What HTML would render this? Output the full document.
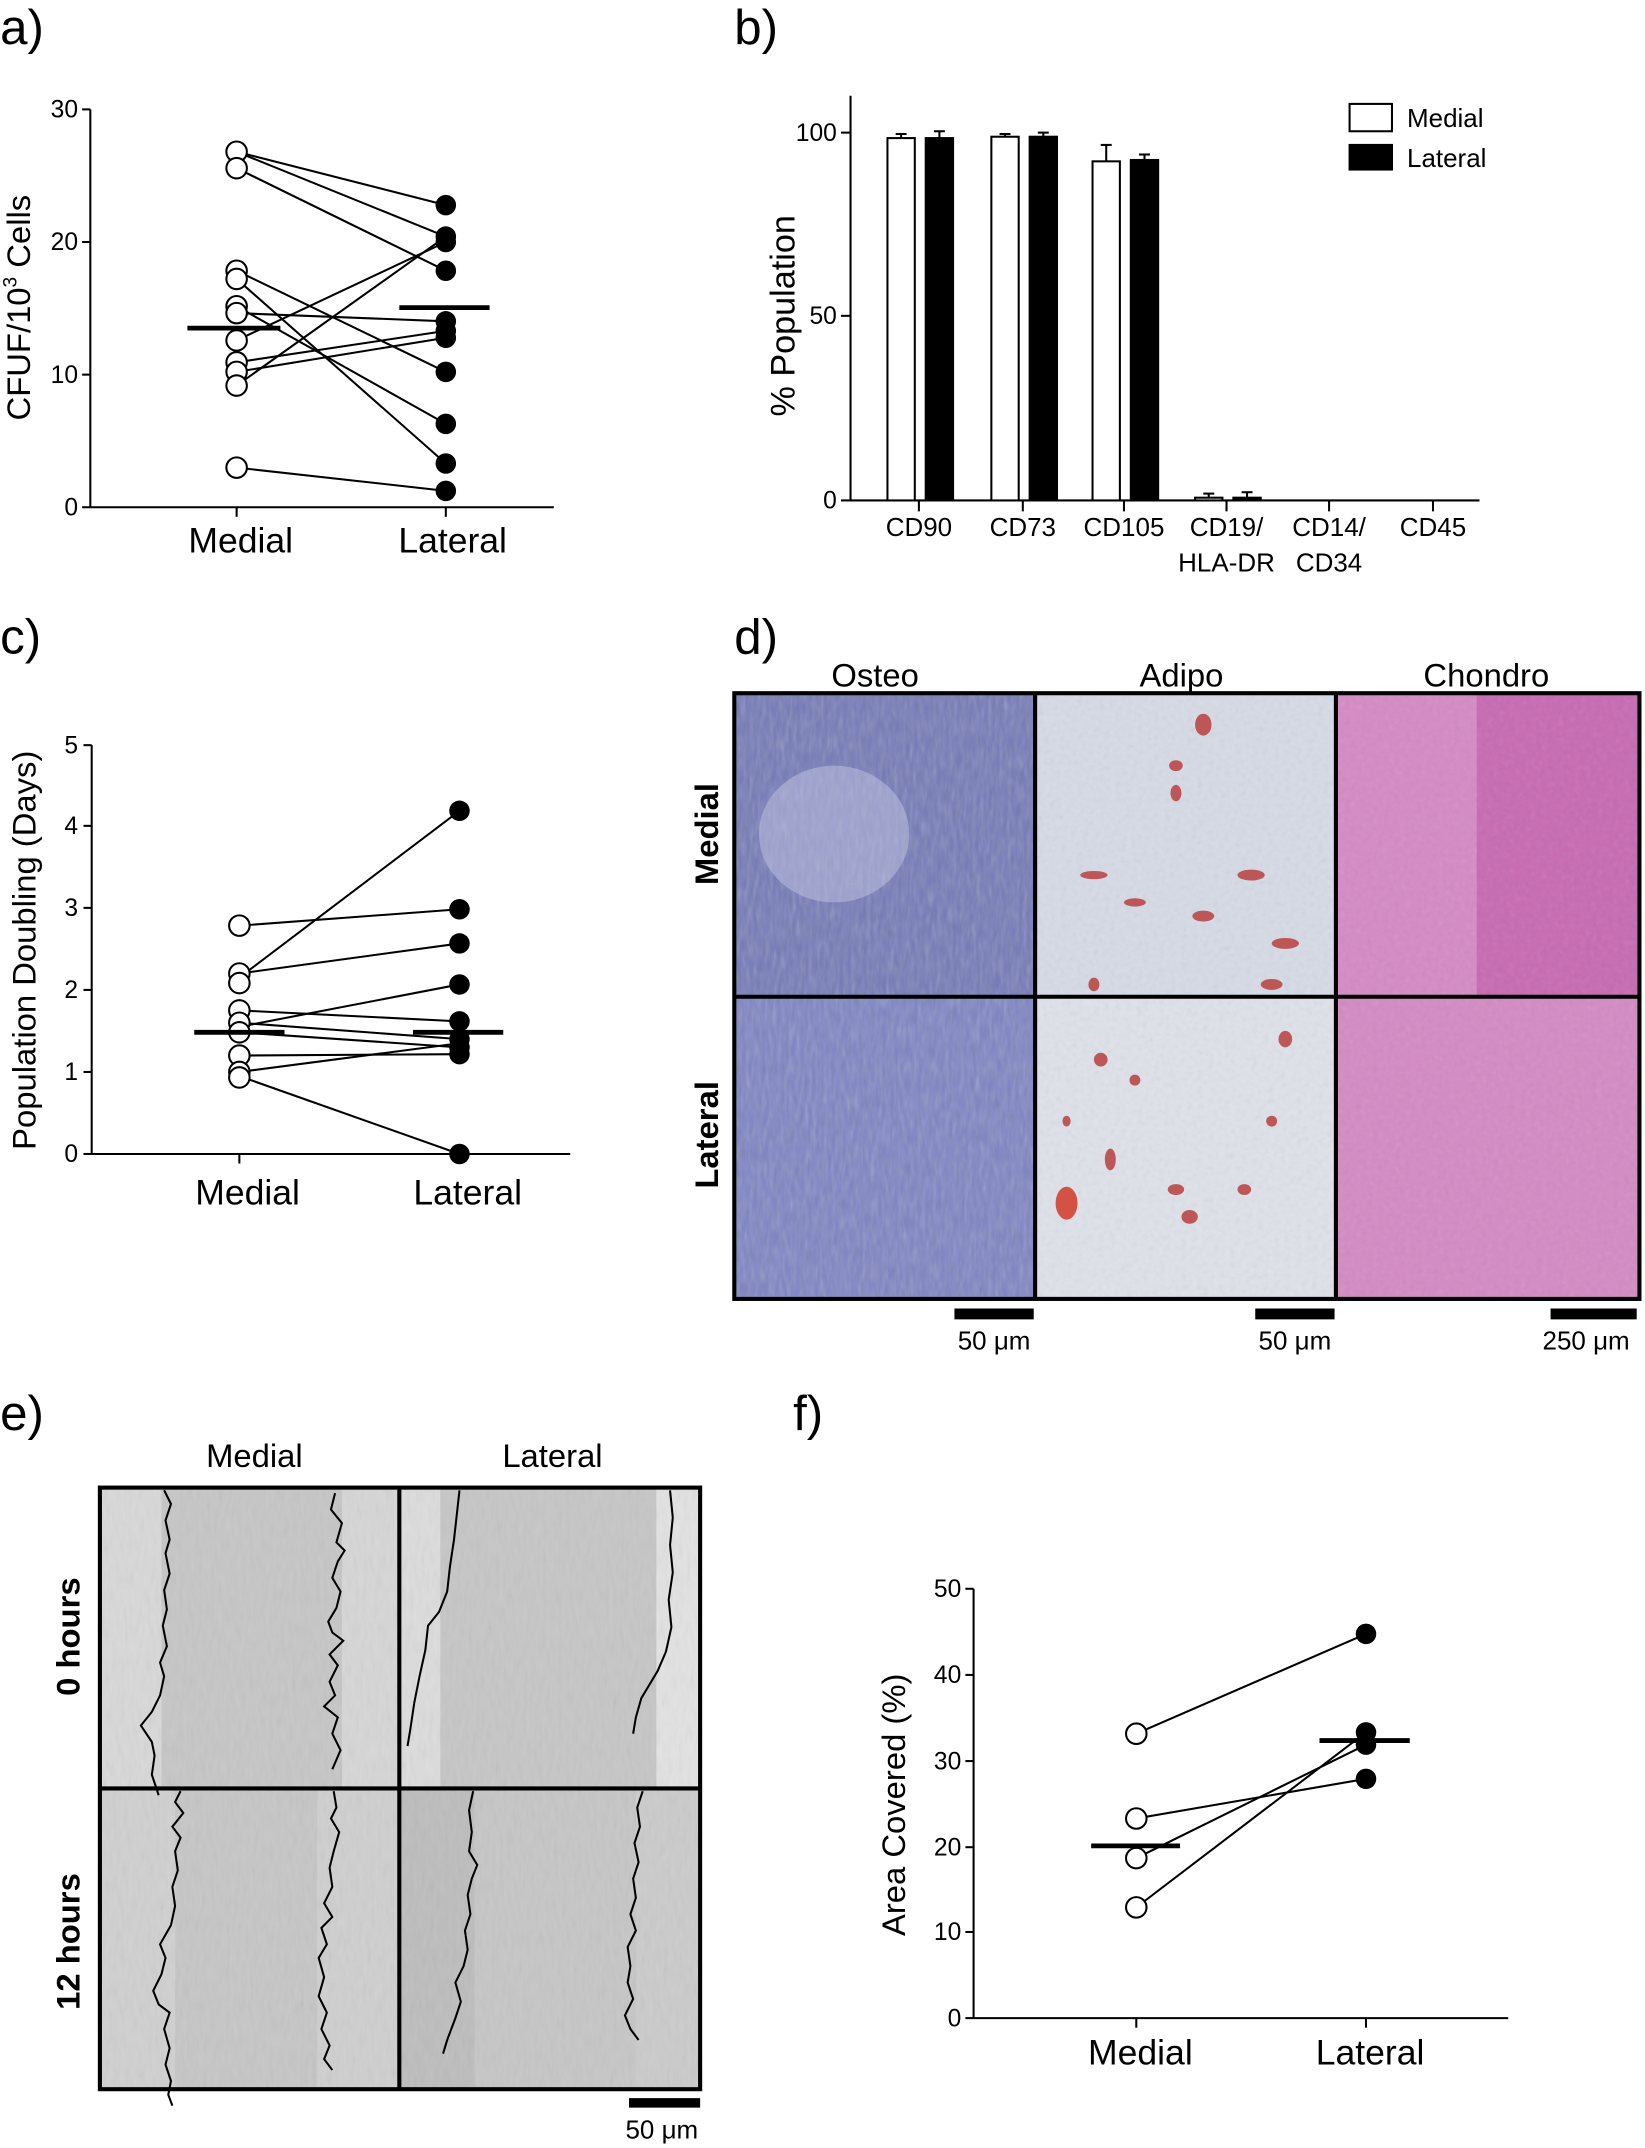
<!DOCTYPE html>
<html><head><meta charset="utf-8"><style>
html,body{margin:0;padding:0;background:#fff;overflow:hidden}
svg{display:block}
text{font-family:"Liberation Sans",sans-serif;fill:#000}
</style></head><body>
<svg width="1645" height="2148" viewBox="0 0 1203 1571" xmlns="http://www.w3.org/2000/svg">
<defs>
<filter id="tx" x="0" y="0" width="1" height="1"><feTurbulence type="fractalNoise" baseFrequency="0.35 0.08" numOctaves="2" seed="3"/><feColorMatrix type="saturate" values="0"/><feComponentTransfer><feFuncA type="linear" slope="0.35"/></feComponentTransfer></filter>
<filter id="tx2" x="0" y="0" width="1" height="1"><feTurbulence type="fractalNoise" baseFrequency="0.25" numOctaves="2" seed="7"/><feColorMatrix type="saturate" values="0"/><feComponentTransfer><feFuncA type="linear" slope="0.3"/></feComponentTransfer></filter>
</defs>

<g font-size="36">
<text x="0" y="32">a)</text><text x="537" y="32">b)</text>
<text x="0" y="478">c)</text><text x="537" y="478">d)</text>
<text x="0" y="1046">e)</text><text x="580" y="1046">f)</text>
</g>

<!-- PANEL A -->
<g stroke="#000" stroke-width="1.5">
<line x1="66" y1="80" x2="66" y2="371"/><line x1="66" y1="371" x2="405" y2="371"/>
<line x1="60" y1="80" x2="66" y2="80"/><line x1="60" y1="177" x2="66" y2="177"/><line x1="60" y1="274" x2="66" y2="274"/><line x1="60" y1="371" x2="66" y2="371"/>
<line x1="173" y1="371" x2="173" y2="378"/><line x1="326" y1="371" x2="326" y2="378"/>
</g>
<g font-size="18" text-anchor="end"><text x="57" y="86">30</text><text x="57" y="183">20</text><text x="57" y="280">10</text><text x="57" y="377">0</text></g>
<g font-size="26" text-anchor="middle"><text x="176" y="404">Medial</text><text x="331" y="404">Lateral</text></g>
<text font-size="24" transform="translate(22,225) rotate(-90)" text-anchor="middle">CFUF/10<tspan font-size="14" dy="-10">3</tspan><tspan dy="10"> Cells</tspan></text>
<g stroke="#000" stroke-width="1.5">
<line x1="173" y1="111" x2="326" y2="150"/><line x1="173" y1="111" x2="326" y2="173"/><line x1="173" y1="123" x2="326" y2="198"/>
<line x1="173" y1="198" x2="326" y2="272"/><line x1="173" y1="204" x2="326" y2="339"/><line x1="173" y1="224" x2="326" y2="310"/>
<line x1="173" y1="229" x2="326" y2="235"/><line x1="173" y1="249" x2="326" y2="177"/><line x1="173" y1="265" x2="326" y2="242"/>
<line x1="173" y1="272" x2="326" y2="247"/><line x1="173" y1="282" x2="326" y2="173"/><line x1="173" y1="342" x2="326" y2="359"/>
</g>
<g fill="#fff" stroke="#000" stroke-width="1.5">
<circle cx="173" cy="111" r="7.5"/><circle cx="173" cy="123" r="7.5"/><circle cx="173" cy="198" r="7.5"/><circle cx="173" cy="204" r="7.5"/><circle cx="173" cy="224" r="7.5"/><circle cx="173" cy="229" r="7.5"/><circle cx="173" cy="249" r="7.5"/><circle cx="173" cy="265" r="7.5"/><circle cx="173" cy="272" r="7.5"/><circle cx="173" cy="282" r="7.5"/><circle cx="173" cy="342" r="7.5"/>
</g>
<g fill="#000"><circle cx="326" cy="150" r="7.5"/><circle cx="326" cy="173" r="7.5"/><circle cx="326" cy="177" r="7.5"/><circle cx="326" cy="198" r="7.5"/><circle cx="326" cy="235" r="7.5"/><circle cx="326" cy="242" r="7.5"/><circle cx="326" cy="247" r="7.5"/><circle cx="326" cy="272" r="7.5"/><circle cx="326" cy="310" r="7.5"/><circle cx="326" cy="339" r="7.5"/><circle cx="326" cy="359" r="7.5"/></g>
<g stroke="#000" stroke-width="3.5"><line x1="137" y1="240" x2="205" y2="240"/><line x1="292" y1="225" x2="358" y2="225"/></g>

<!-- PANEL B -->
<g stroke="#000" stroke-width="1.5">
<line x1="622" y1="70" x2="622" y2="366"/><line x1="622" y1="366" x2="1082" y2="366"/>
<line x1="615" y1="97" x2="622" y2="97"/><line x1="615" y1="231" x2="622" y2="231"/><line x1="615" y1="366" x2="622" y2="366"/>
<line x1="672" y1="366" x2="672" y2="374"/><line x1="748" y1="366" x2="748" y2="374"/><line x1="822" y1="366" x2="822" y2="374"/><line x1="897" y1="366" x2="897" y2="374"/><line x1="972" y1="366" x2="972" y2="374"/><line x1="1048" y1="366" x2="1048" y2="374"/>
</g>
<g font-size="18" text-anchor="end"><text x="612" y="103">100</text><text x="612" y="237">50</text><text x="612" y="372">0</text></g>
<text font-size="25" transform="translate(581,231) rotate(-90)" text-anchor="middle">% Population</text>
<g stroke="#000" stroke-width="1.5">
<rect x="649" y="101" width="20" height="265" fill="#fff"/><rect x="677" y="101" width="20" height="265" fill="#000"/>
<rect x="725" y="100" width="20" height="266" fill="#fff"/><rect x="753" y="100" width="20" height="266" fill="#000"/>
<rect x="799" y="118" width="20" height="248" fill="#fff"/><rect x="827" y="117" width="20" height="249" fill="#000"/>
<rect x="874" y="364" width="20" height="2" fill="#fff"/><rect x="902" y="364" width="20" height="2" fill="#000"/>
<line x1="659" y1="101" x2="659" y2="98"/><line x1="655" y1="98" x2="663" y2="98"/>
<line x1="687" y1="101" x2="687" y2="96"/><line x1="683" y1="96" x2="691" y2="96"/>
<line x1="735" y1="100" x2="735" y2="98"/><line x1="731" y1="98" x2="739" y2="98"/>
<line x1="763" y1="100" x2="763" y2="97"/><line x1="759" y1="97" x2="767" y2="97"/>
<line x1="809" y1="118" x2="809" y2="106"/><line x1="805" y1="106" x2="813" y2="106"/>
<line x1="837" y1="117" x2="837" y2="113"/><line x1="833" y1="113" x2="841" y2="113"/>
<line x1="884" y1="364" x2="884" y2="361"/><line x1="880" y1="361" x2="888" y2="361"/>
<line x1="912" y1="364" x2="912" y2="360"/><line x1="908" y1="360" x2="916" y2="360"/>
<rect x="987" y="76" width="31" height="20" fill="#fff"/><rect x="987" y="106" width="31" height="18" fill="#000"/>
</g>
<g font-size="19"><text x="1029" y="93">Medial</text><text x="1029" y="122">Lateral</text></g>
<g font-size="19" text-anchor="middle"><text x="672" y="392">CD90</text><text x="748" y="392">CD73</text><text x="822" y="392">CD105</text><text x="897" y="392">CD19/</text><text x="972" y="392">CD14/</text><text x="1048" y="392">CD45</text>
<text x="897" y="418">HLA-DR</text><text x="972" y="418">CD34</text></g>

<!-- PANEL C -->
<g stroke="#000" stroke-width="1.5">
<line x1="67" y1="545" x2="67" y2="844"/><line x1="67" y1="844" x2="417" y2="844"/>
<line x1="61" y1="545" x2="67" y2="545"/><line x1="61" y1="604" x2="67" y2="604"/><line x1="61" y1="664" x2="67" y2="664"/><line x1="61" y1="724" x2="67" y2="724"/><line x1="61" y1="784" x2="67" y2="784"/><line x1="61" y1="844" x2="67" y2="844"/>
<line x1="175" y1="844" x2="175" y2="851"/><line x1="336" y1="844" x2="336" y2="851"/>
</g>
<g font-size="18" text-anchor="end"><text x="57" y="551">5</text><text x="57" y="610">4</text><text x="57" y="670">3</text><text x="57" y="730">2</text><text x="57" y="790">1</text><text x="57" y="850">0</text></g>
<g font-size="26" text-anchor="middle"><text x="181" y="881">Medial</text><text x="342" y="881">Lateral</text></g>
<text font-size="24" transform="translate(26,695) rotate(-90)" text-anchor="middle">Population Doubling (Days)</text>
<g stroke="#000" stroke-width="1.5">
<line x1="175" y1="677" x2="336" y2="665"/><line x1="175" y1="715" x2="336" y2="593"/><line x1="175" y1="712" x2="336" y2="690"/>
<line x1="175" y1="751" x2="336" y2="720"/><line x1="175" y1="739" x2="336" y2="747"/><line x1="175" y1="748" x2="336" y2="760"/>
<line x1="175" y1="755" x2="336" y2="766"/><line x1="175" y1="772" x2="336" y2="771"/><line x1="175" y1="784" x2="336" y2="763"/>
<line x1="175" y1="787" x2="336" y2="844"/>
</g>
<g fill="#fff" stroke="#000" stroke-width="1.5">
<circle cx="175" cy="677" r="7.5"/><circle cx="175" cy="712" r="7.5"/><circle cx="175" cy="719" r="7.5"/><circle cx="175" cy="739" r="7.5"/><circle cx="175" cy="748" r="7.5"/><circle cx="175" cy="755" r="7.5"/><circle cx="175" cy="772" r="7.5"/><circle cx="175" cy="784" r="7.5"/><circle cx="175" cy="788" r="7.5"/>
</g>
<g fill="#000"><circle cx="336" cy="593" r="7.5"/><circle cx="336" cy="665" r="7.5"/><circle cx="336" cy="690" r="7.5"/><circle cx="336" cy="720" r="7.5"/><circle cx="336" cy="747" r="7.5"/><circle cx="336" cy="760" r="7.5"/><circle cx="336" cy="766" r="7.5"/><circle cx="336" cy="771" r="7.5"/><circle cx="336" cy="844" r="7.5"/></g>
<g stroke="#000" stroke-width="3.5"><line x1="142" y1="755" x2="208" y2="755"/><line x1="302" y1="755" x2="368" y2="755"/></g>

<!-- PANEL D -->
<g font-size="24" text-anchor="middle"><text x="640" y="502">Osteo</text><text x="864" y="502">Adipo</text><text x="1087" y="502">Chondro</text></g>
<text font-size="24" font-weight="bold" transform="translate(525,610) rotate(-90)" text-anchor="middle">Medial</text>
<text font-size="24" font-weight="bold" transform="translate(525,830) rotate(-90)" text-anchor="middle">Lateral</text>
<rect x="537" y="507" width="220" height="222" fill="#7379b8"/>
<rect x="537" y="507" width="220" height="222" filter="url(#tx)"/>
<ellipse cx="610" cy="610" rx="55" ry="50" fill="#c9cce6" opacity="0.45"/>
<rect x="537" y="729" width="220" height="221" fill="#7d83c4"/>
<rect x="537" y="729" width="220" height="221" filter="url(#tx)"/>
<rect x="757" y="507" width="220" height="222" fill="#d6dbe6"/>
<rect x="757" y="729" width="220" height="221" fill="#dfe2ea"/>
<rect x="757" y="507" width="220" height="443" filter="url(#tx2)" opacity="0.5"/>
<g fill="#b8403f" opacity="0.85">
<ellipse cx="880" cy="530" rx="6" ry="8"/><ellipse cx="860" cy="560" rx="5" ry="4"/><ellipse cx="800" cy="640" rx="10" ry="3"/><ellipse cx="830" cy="660" rx="8" ry="3"/><ellipse cx="915" cy="640" rx="10" ry="4"/><ellipse cx="880" cy="670" rx="8" ry="4"/><ellipse cx="940" cy="690" rx="10" ry="4"/><ellipse cx="930" cy="720" rx="8" ry="4"/><ellipse cx="860" cy="580" rx="4" ry="6"/><ellipse cx="800" cy="720" rx="4" ry="5"/>
<ellipse cx="780" cy="880" rx="8" ry="12" fill="#d23a2a"/><ellipse cx="812" cy="848" rx="4" ry="8"/><ellipse cx="805" cy="775" rx="5" ry="5"/><ellipse cx="830" cy="790" rx="4" ry="4"/><ellipse cx="860" cy="870" rx="6" ry="4"/><ellipse cx="910" cy="870" rx="5" ry="4"/><ellipse cx="870" cy="890" rx="6" ry="5"/><ellipse cx="930" cy="820" rx="4" ry="4"/><ellipse cx="940" cy="760" rx="5" ry="6"/><ellipse cx="780" cy="820" rx="3" ry="4"/>
</g>
<rect x="977" y="507" width="222" height="222" fill="#d58ac5"/>
<rect x="1080" y="507" width="119" height="222" fill="#b9409e" opacity="0.45"/>
<rect x="977" y="729" width="222" height="221" fill="#d48ac4"/>
<rect x="977" y="507" width="222" height="443" filter="url(#tx2)" opacity="0.5"/>
<g stroke="#000" stroke-width="3" fill="none">
<rect x="537" y="507" width="662" height="443"/>
<line x1="537" y1="729" x2="1199" y2="729"/><line x1="757" y1="507" x2="757" y2="950"/><line x1="977" y1="507" x2="977" y2="950"/>
</g>
<g stroke="#000" stroke-width="8"><line x1="698" y1="961" x2="756" y2="961"/><line x1="918" y1="961" x2="976" y2="961"/><line x1="1134" y1="961" x2="1197" y2="961"/></g>
<g font-size="19" text-anchor="middle"><text x="727" y="987">50 μm</text><text x="947" y="987">50 μm</text><text x="1160" y="987">250 μm</text></g>

<!-- PANEL E -->
<g font-size="24" text-anchor="middle"><text x="186" y="1073">Medial</text><text x="404" y="1073">Lateral</text></g>
<text font-size="24" font-weight="bold" transform="translate(58,1197) rotate(-90)" text-anchor="middle">0 hours</text>
<text font-size="24" font-weight="bold" transform="translate(58,1420) rotate(-90)" text-anchor="middle">12 hours</text>
<rect x="73" y="1088" width="439" height="440" fill="#c6c6c6"/>
<rect x="73" y="1088" width="45" height="220" fill="#d8d8d8"/><rect x="250" y="1088" width="42" height="220" fill="#d6d6d6"/>
<rect x="292" y="1088" width="30" height="220" fill="#dcdcdc"/><rect x="480" y="1088" width="32" height="220" fill="#e2e2e2"/>
<rect x="73" y="1308" width="55" height="220" fill="#d0d0d0"/><rect x="232" y="1308" width="60" height="220" fill="#cfcfcf"/>
<rect x="292" y="1308" width="55" height="220" fill="#bdbdbd"/><rect x="465" y="1308" width="47" height="220" fill="#cbcbcb"/>
<rect x="73" y="1088" width="439" height="440" filter="url(#tx)" opacity="0.4"/>
<g stroke="#000" stroke-width="1.5" fill="none">
<path d="M120,1090 l5,10 -4,12 3,14 -3,10 3,15 -4,12 2,14 -3,12 3,15 -5,12 3,10 -3,14 -6,12 -8,10 8,12 2,10 -2,14 5,15"/>
<path d="M245,1092 l-3,12 8,10 -4,14 6,6 -5,8 -4,12 6,10 -3,12 -6,10 3,8 8,6 -10,10 6,8 -6,12 4,10 -8,8 10,8 -4,12 6,12 -6,14"/>
<path d="M336,1090 l-2,18 -2,18 -3,20 -2,18 -6,15 -8,10 -2,18 -4,18 -4,20 -3,20 -2,12"/>
<path d="M490,1090 l2,20 -2,20 2,20 -3,20 2,20 -4,18 -6,14 -6,10 -6,10 -4,14 -2,12"/>
<path d="M132,1310 l-4,8 6,8 -8,10 6,8 -4,10 2,14 -4,12 2,14 -3,14 -8,14 4,10 -3,12 -6,12 4,10 8,6 -4,12 4,14 -3,12 4,12 -2,10 3,8"/>
<path d="M244,1310 l2,12 -4,8 6,10 -4,14 -3,12 2,14 -6,12 6,10 -8,8 4,12 -6,10 4,14 -4,14 6,12 -4,12 6,12 -4,10 6,8"/>
<path d="M346,1310 l-3,14 2,16 -2,14 6,10 -4,10 -3,12 2,14 -4,12 2,14 -3,12 -6,12 4,14 -4,12 -6,16 -3,10"/>
<path d="M470,1310 l-4,12 2,14 -4,12 3,14 -4,12 2,14 -4,12 4,12 -6,12 2,14 -2,12 4,12 -6,12 4,10 6,8"/>
</g>
<g stroke="#000" stroke-width="3" fill="none">
<rect x="73" y="1088" width="439" height="440"/><line x1="73" y1="1308" x2="512" y2="1308"/><line x1="292" y1="1088" x2="292" y2="1528"/>
</g>
<line x1="460" y1="1538" x2="512" y2="1538" stroke="#000" stroke-width="7"/>
<text font-size="19" x="484" y="1564" text-anchor="middle">50 μm</text>

<!-- PANEL F -->
<g stroke="#000" stroke-width="1.5">
<line x1="712" y1="1162" x2="712" y2="1476"/><line x1="712" y1="1476" x2="1103" y2="1476"/>
<line x1="706" y1="1162" x2="712" y2="1162"/><line x1="706" y1="1225" x2="712" y2="1225"/><line x1="706" y1="1288" x2="712" y2="1288"/><line x1="706" y1="1351" x2="712" y2="1351"/><line x1="706" y1="1413" x2="712" y2="1413"/><line x1="706" y1="1476" x2="712" y2="1476"/>
<line x1="831" y1="1476" x2="831" y2="1483"/><line x1="999" y1="1476" x2="999" y2="1483"/>
</g>
<g font-size="18" text-anchor="end"><text x="703" y="1168">50</text><text x="703" y="1231">40</text><text x="703" y="1294">30</text><text x="703" y="1357">20</text><text x="703" y="1419">10</text><text x="703" y="1482">0</text></g>
<g font-size="26" text-anchor="middle"><text x="834" y="1510">Medial</text><text x="1002" y="1510">Lateral</text></g>
<text font-size="24" transform="translate(662,1320) rotate(-90)" text-anchor="middle">Area Covered (%)</text>
<g stroke="#000" stroke-width="1.5">
<line x1="831" y1="1268" x2="999" y2="1195"/><line x1="831" y1="1330" x2="999" y2="1301"/><line x1="831" y1="1359" x2="999" y2="1276"/><line x1="831" y1="1395" x2="999" y2="1267"/>
</g>
<g fill="#fff" stroke="#000" stroke-width="1.5"><circle cx="831" cy="1268" r="7.5"/><circle cx="831" cy="1330" r="7.5"/><circle cx="831" cy="1359" r="7.5"/><circle cx="831" cy="1395" r="7.5"/></g>
<g fill="#000"><circle cx="999" cy="1195" r="7.5"/><circle cx="999" cy="1267" r="7.5"/><circle cx="999" cy="1276" r="7.5"/><circle cx="999" cy="1301" r="7.5"/></g>
<g stroke="#000" stroke-width="3.5"><line x1="798" y1="1350" x2="863" y2="1350"/><line x1="965" y1="1273" x2="1031" y2="1273"/></g>
</svg>
</body></html>
